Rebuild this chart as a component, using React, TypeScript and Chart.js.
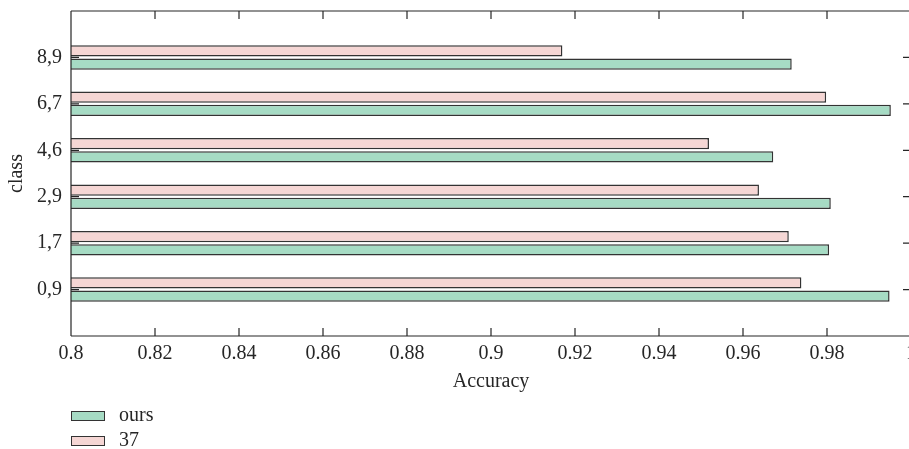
import React, { useEffect, useRef } from 'react';
import { Chart, registerables } from 'chart.js';

Chart.register(...registerables);

// ---- data ----
const classes = ['0,9', '1,7', '2,9', '4,6', '6,7', '8,9'];
const oursValues = [0.9949, 0.9805, 0.9809, 0.9672, 0.9952, 0.9716];
const refValues = [0.9739, 0.9709, 0.9638, 0.9519, 0.9798, 0.917];
const seriesNames = ['ours', '37'];
const xTicks = [0.8, 0.82, 0.84, 0.86, 0.88, 0.9, 0.92, 0.94, 0.96, 0.98, 1];
const xLabels = ['0.8', '0.82', '0.84', '0.86', '0.88', '0.9', '0.92', '0.94', '0.96', '0.98', '1'];
const xTitle = 'Accuracy';
const yTitle = 'class';

// ---- style ----
const FONT = 'Liberation Serif';
const FS = 20;
const TEXT = '#262626';
const AXIS = '#262626';
const OURS_FILL = '#a6dbc4';
const REF_FILL = '#f5d6d4';
const BAR_BORDER = '#333333';

const framePlugin = {
  id: 'frame',
  afterDraw(chart: any) {
    const { ctx, chartArea, scales } = chart;
    const { left, right, top, bottom } = chartArea;
    const x = scales.x;
    const y = scales.y;
    ctx.save();
    ctx.strokeStyle = AXIS;
    ctx.lineWidth = 1.2;
    ctx.beginPath();
    ctx.moveTo(left, top);
    ctx.lineTo(right, top);
    ctx.moveTo(left, bottom);
    ctx.lineTo(right, bottom);
    ctx.moveTo(left, top);
    ctx.lineTo(left, bottom);
    ctx.moveTo(right, top);
    ctx.lineTo(right, bottom);
    const tl = 8;
    xTicks.forEach((v) => {
      const px = x.getPixelForValue(v);
      ctx.moveTo(px, bottom);
      ctx.lineTo(px, bottom - tl);
      ctx.moveTo(px, top);
      ctx.lineTo(px, top + tl);
    });
    classes.forEach((_, i) => {
      const py = y.getPixelForValue(i + 1);
      ctx.moveTo(left, py);
      ctx.lineTo(left + tl, py);
      ctx.moveTo(right, py);
      ctx.lineTo(right - tl, py);
    });
    ctx.stroke();

    // legend (vertical, bottom-left)
    const ds = chart.data.datasets;
    const order = [1, 0];
    ctx.font = `${FS}px "${FONT}"`;
    ctx.textBaseline = 'alphabetic';
    ctx.textAlign = 'left';
    order.forEach((di, row) => {
      const d = ds[di];
      const by = 411 + row * 25;
      ctx.fillStyle = d.backgroundColor;
      ctx.fillRect(left, by, 34, 10);
      ctx.strokeStyle = BAR_BORDER;
      ctx.lineWidth = 1;
      ctx.strokeRect(left + 0.5, by + 0.5, 33, 9);
      ctx.fillStyle = TEXT;
      ctx.fillText(d.label, left + 48, by + 10);
    });
    ctx.restore();
  },
};

export default function App() {
  const ref = useRef<HTMLCanvasElement | null>(null);
  useEffect(() => {
    if (!ref.current) return;
    const chart = new Chart(ref.current, {
      type: 'bar',
      data: {
        datasets: [
          {
            label: seriesNames[1],
            data: refValues.map((v, i) => ({ x: v, y: i + 1 })),
            backgroundColor: REF_FILL,
            borderColor: BAR_BORDER,
            borderWidth: 1.5,
            borderSkipped: false,
          },
          {
            label: seriesNames[0],
            data: oursValues.map((v, i) => ({ x: v, y: i + 1 })),
            backgroundColor: OURS_FILL,
            borderColor: BAR_BORDER,
            borderWidth: 1.5,
            borderSkipped: false,
          },
        ],
      },
      options: {
        indexAxis: 'y',
        responsive: false,
        maintainAspectRatio: false,
        animation: false,
        devicePixelRatio: 1,
        layout: { padding: { top: 11, right: 9, left: 0, bottom: 0 } },
        datasets: { bar: { categoryPercentage: 0.57, barPercentage: 0.85 } },
        plugins: { legend: { display: false }, tooltip: { enabled: false } },
        font: { family: FONT, size: FS },
        scales: {
          x: {
            type: 'linear',
            min: 0.8,
            max: 1,
            offset: false,
            grid: { display: false, drawTicks: false, offset: false },
            border: { display: false },
            afterBuildTicks: (s: any) => {
              s.ticks = xTicks.map((v) => ({ value: v }));
            },
            ticks: {
              padding: 6,
              color: TEXT,
              font: { family: FONT, size: FS },
              maxRotation: 0,
              autoSkip: false,
              callback: (v: any) => {
                const i = xTicks.findIndex((t) => Math.abs(t - v) < 1e-9);
                return i >= 0 ? xLabels[i] : '';
              },
            },
            title: {
              display: true,
              text: xTitle,
              color: TEXT,
              font: { family: FONT, size: FS },
              padding: { top: 0, bottom: 55 },
            },
            afterFit: (s: any) => {
              s.height = 113;
              s.paddingLeft = 0;
              s.paddingRight = 0;
            },
          },
          y: {
            type: 'linear',
            min: 0,
            max: 7,
            offset: false,
            grid: { display: false, drawTicks: false, offset: false },
            border: { display: false },
            afterBuildTicks: (s: any) => {
              s.ticks = classes.map((_, i) => ({ value: i + 1 }));
            },
            ticks: {
              padding: 9,
              color: TEXT,
              font: { family: FONT, size: FS },
              autoSkip: false,
              callback: (v: any) => classes[Math.round(v) - 1] ?? '',
            },
            title: {
              display: true,
              text: yTitle,
              color: TEXT,
              font: { family: FONT, size: FS },
              padding: { top: 5, bottom: 0 },
            },
            afterFit: (s: any) => {
              s.width = 71;
              s.paddingTop = 0;
              s.paddingBottom = 0;
            },
          },
        },
      } as any,
      plugins: [framePlugin],
    });
    return () => chart.destroy();
  }, []);

  return (
    <div
      style={{
        position: 'absolute',
        left: 0,
        top: 0,
        width: 909,
        height: 449,
        overflow: 'hidden',
        background: '#fff',
      }}
    >
      <canvas ref={ref} width={920} height={449} style={{ width: 920, height: 449, display: 'block' }} />
    </div>
  );
}
